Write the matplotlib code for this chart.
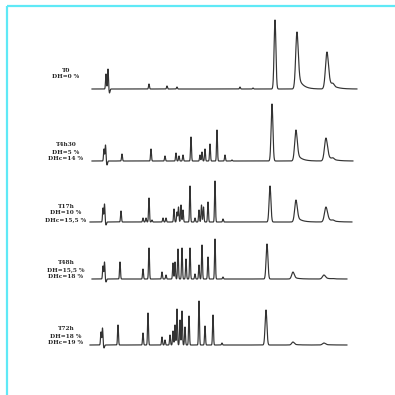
import numpy as np
import matplotlib.pyplot as plt

# chromatogram traces, positions/heights (pixel units)
labels = [
    ["T0", "DH=0 %"],
    ["T4h30", "DH=5 %", "DHc=14 %"],
    ["T17h", "DH=10 %", "DHc=15,5 %"],
    ["T48h", "DH=15,5 %", "DHc=18 %"],
    ["T72h", "DH=18 %", "DHc=19 %"],
]
baselines = [89, 161, 222, 279, 345]
x_start = [92, 92, 90, 92, 90]
x_end = [357, 353, 352, 347, 347]

# small peaks: (position, height)
small_peaks = [
    [(106, 15), (108, 20), (149, 5), (167, 3), (177, 2), (240, 2), (253, 1)],
    [(104, 12), (105.5, 16), (122, 7), (151, 12), (165, 5), (176, 8), (179, 5),
     (183, 6), (191, 24), (200, 6), (202, 9), (205, 12), (210, 17), (217, 31),
     (225, 6), (232, 1)],
    [(103, 14), (104.5, 18), (121, 11), (143, 4), (146, 4), (149, 24), (152, 2),
     (163, 4), (166, 4), (174, 13), (177, 10), (178.5, 15), (181, 17), (183, 12),
     (190, 36), (195, 4), (199, 12), (201.5, 17), (203.5, 15), (208, 20),
     (215, 41), (223, 3)],
    [(103, 13), (104.5, 17), (120, 17), (143, 10), (149, 31), (162, 7), (166, 4),
     (173, 16), (175, 17), (178, 30), (182, 31), (186, 20), (190, 31), (195, 5),
     (199, 14), (202, 34), (208, 22), (215, 40), (223, 2)],
    [(101, 13), (102.5, 17), (118, 20), (143, 12), (148, 32), (162, 8), (165, 5),
     (170, 10), (173, 14), (175, 20), (177, 36), (180, 25), (182, 34), (185, 18),
     (189, 29), (199, 44), (205, 19), (213, 30), (222, 2)],
]
dips = [(109.5, 4), (107, 4), (106, 3), (106, 3), (104, 3)]

# late, broad tailing peaks: (position, height)
big_peaks = [
    [(275, 69), (297, 57), (327, 37)],
    [(272, 57), (296, 31), (326, 23)],
    [(270, 36), (296, 22), (326, 15)],
    [(267, 35), (293, 7), (324, 4)],
    [(266, 35), (293, 3), (324, 2)],
]


def tail_peak(x, pos, h, w, tau, frac):
    g = np.exp(-0.5 * ((x - pos) / w) ** 2)
    if tau <= 0:
        return h * g
    right = (1 - frac) * g + frac * np.exp(-np.clip(x - pos, 0, None) / tau)
    return h * np.where(x < pos, g, right)


fig = plt.figure(figsize=(3.95, 3.95), dpi=100)
ax = fig.add_axes([0, 0, 1, 1])
ax.set_xlim(0, 395)
ax.set_ylim(395, 0)
ax.axis("off")

# light cyan frame (top and left only)
ax.plot([7, 7], [6, 395], color="#5fe9f6", lw=1.6, solid_capstyle="butt")
ax.plot([7, 395], [6, 6], color="#5fe9f6", lw=1.6, solid_capstyle="butt")

for i in range(5):
    x = np.arange(x_start[i], x_end[i], 0.1)
    y = np.zeros_like(x)
    for pos, h in small_peaks[i]:
        y += h * np.exp(-0.5 * ((x - pos) / 0.45) ** 2)
    dpos, dh = dips[i]
    y -= dh * np.exp(-0.5 * ((x - dpos) / 0.5) ** 2)
    for k, (pos, h) in enumerate(big_peaks[i]):
        w = [0.9, 1.3, 1.5][k]
        tau = [0.0, 4.5, 5.5][k]
        y += tail_peak(x, pos, h, w, tau, 0.28)
    # small shoulder after the last peak
    y += 0.06 * big_peaks[i][2][1] * np.exp(-0.5 * ((x - 333) / 1.2) ** 2)
    ax.plot(x, baselines[i] - y, color="#333333", lw=0.85)

    lines = labels[i]
    n = len(lines)
    y0 = baselines[i] - 16 if n == 3 else baselines[i] - 19
    for j, s in enumerate(lines):
        ax.text(66, y0 + 7 * j, s, ha="center", va="center", fontsize=4.2,
                fontweight="bold", family="DejaVu Serif", color="#2a2a2a")

fig.savefig("out.png", dpi=100)
